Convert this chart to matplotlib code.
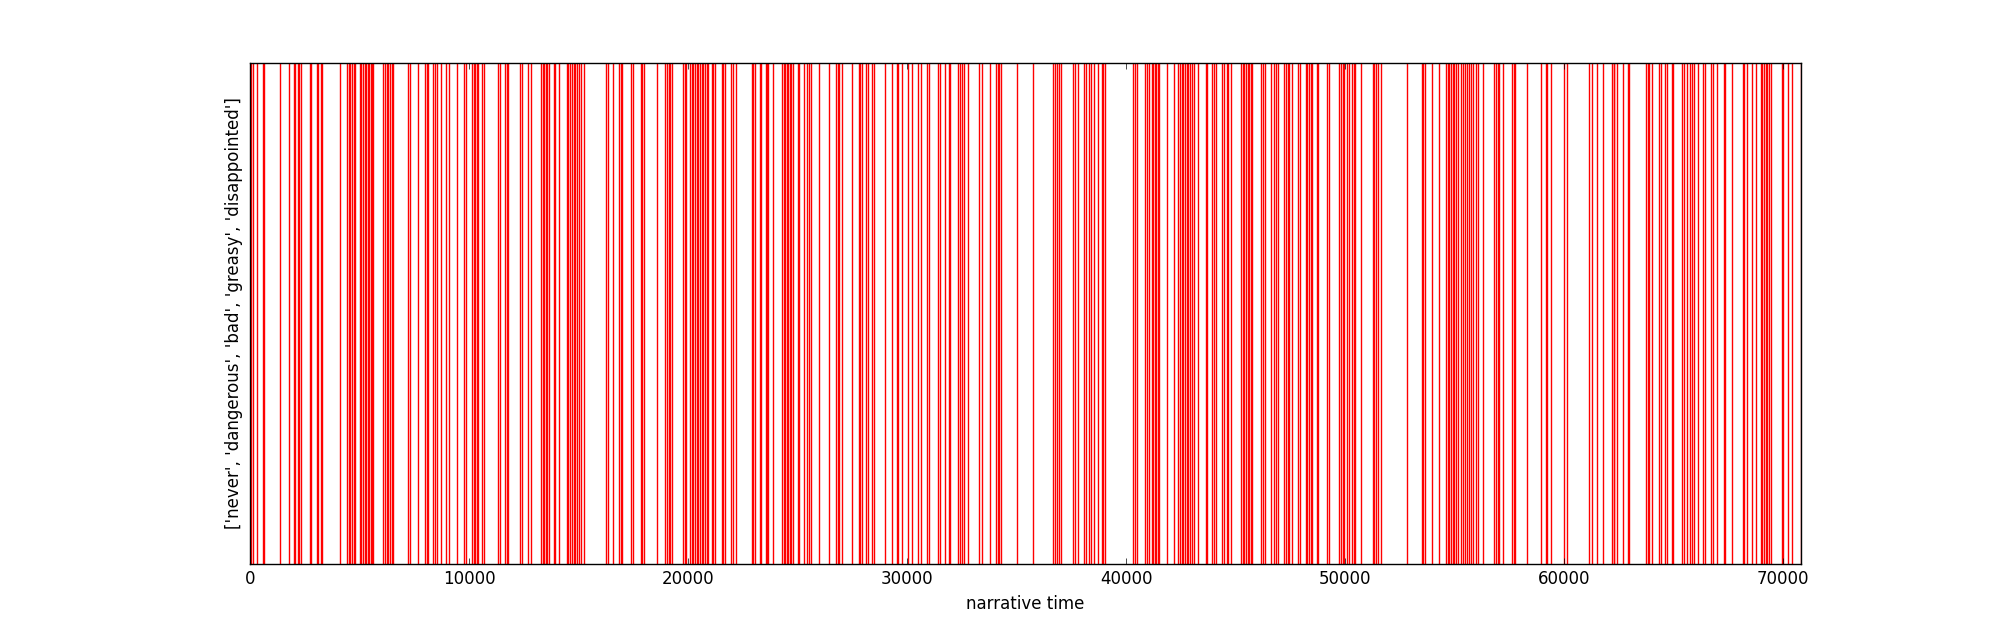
import matplotlib
matplotlib.use("Agg")
import matplotlib.pyplot as plt

# word offsets (narrative time) for the searched words
words = ['never', 'dangerous', 'bad', 'greasy', 'disappointed']
text_len = 70820
offsets = [
    60, 150, 305, 580, 640, 1385, 1795, 2010, 2070, 2180, 2250, 2330, 2755, 2800,
    3045, 3120, 3240, 3290, 4125, 4430, 4505, 4580, 4660, 4735, 4810, 5010, 5070,
    5145, 5235, 5310, 5375, 5445, 5510, 5570, 5630, 6085, 6165, 6240, 6315, 6390,
    6470, 6545,
    7228, 7306, 7657, 7990, 8068, 8141, 8370, 8447, 8525, 8707, 8936, 9100, 9466,
    9785, 9863, 10150, 10228, 10287, 10351, 10424, 10607, 10671, 11310, 11415,
    11643, 11721, 11794, 12342, 12406, 12694, 12844, 13287, 13365, 13424, 13502,
    13575, 13639, 13881, 13940, 14123, 14461, 14534, 14611, 14689, 14794, 14853,
    14931, 15008, 15100, 15237,
    16255, 16333, 16589, 16863, 16940, 17000, 17383, 17502, 17840, 17912, 18004,
    18570, 18963, 19040, 19118, 19191, 19269, 19785, 19849, 19908, 20090, 20168,
    20241, 20319, 20397, 20470, 20547, 20625, 20698, 20775, 20853, 20926, 21081,
    21154, 21232, 21538, 21611, 21675, 21963, 22040, 22177, 22908, 22981, 23045,
    23287, 23346, 23547, 23620, 23666, 23894, 24305, 24369, 24442, 24506, 24579,
    24643, 24716, 24794, 25008, 25068, 25310,
    25419, 25538, 25615, 25994, 26451, 26757, 26834, 26907, 27017, 27501, 27793,
    27866, 27958, 28127, 28204, 28387, 28492, 28994, 29300, 29528, 29574, 29784,
    30058, 30241, 30515, 30638, 30926, 31003, 31428, 31492, 31734, 31917, 31976,
    32342, 32419, 32497, 32616, 32798, 33287, 33437, 33788, 34062, 34140, 34213,
    34291,
    35035, 35766, 36678, 36756, 36834, 36952, 37016, 37592, 37670, 37792, 38094,
    38158, 38322, 38386, 38537, 38706, 38888, 38962, 39039, 40332, 40410, 40515,
    40853, 40944, 41035, 41172, 41246, 41310, 41368, 41446, 41519, 41884, 42190,
    42386, 42464, 42542, 42615, 42693, 42770, 42843, 42921, 43026, 43117, 43300,
    43638, 43711, 43925, 44016,
    44108, 44395, 44473, 44596, 44669, 44779, 45251, 45328, 45401, 45479, 45556,
    45629, 45707, 45766, 46162, 46240, 46345, 46619, 46770, 46848, 46953, 47227,
    47305, 47382, 47455, 47592, 47866, 47930, 48204, 48277, 48355, 48433, 48506,
    48706, 48779, 49190, 49281, 49724, 49816, 49893, 49966, 50103, 50167, 50332,
    50396, 50455, 50715, 51263, 51336, 51414, 51491, 51642, 52815,
    53500, 53573, 53665, 53957, 54304, 54609, 54687, 54760, 54838, 54915, 54988,
    55066, 55171, 55281, 55372, 55477, 55555, 55646, 55751, 55856, 55966, 56085,
    56286, 56800, 56879, 56970, 57043, 57226, 57637, 57714, 57773, 58293, 58960,
    59161, 59234, 59403, 59997, 60148, 61152, 61289, 61518, 61792, 62173, 62265,
    62295, 62405, 62679, 62935, 62980, 63729, 63820, 63893, 64003, 64349, 64413,
    64610, 64687, 64916, 64989, 65400, 65477, 65600, 65751, 65856, 65934, 66130,
    66358, 66436, 66710, 66787, 66970, 67304, 67349, 67655, 68157, 68230, 68340,
    68568, 68751, 68979, 69052, 69130, 69207, 69280, 69358, 69435, 69938, 70011,
    70212, 70422, 70818,
]

plt.style.use("classic")
fig, ax = plt.subplots(figsize=(20.01, 6.27), dpi=100)
fig.patch.set_facecolor("white")

ax.vlines(offsets, 0, 1, colors="red", linewidth=1.0)
ax.set_xlim(0, text_len)
ax.set_ylim(0, 1)
ax.set_yticks([])
ax.set_xticks(range(0, 70001, 10000))
ax.set_xlabel("narrative time")
ax.set_ylabel(str(words))

fig.savefig("out.png", dpi=100, facecolor="white")
